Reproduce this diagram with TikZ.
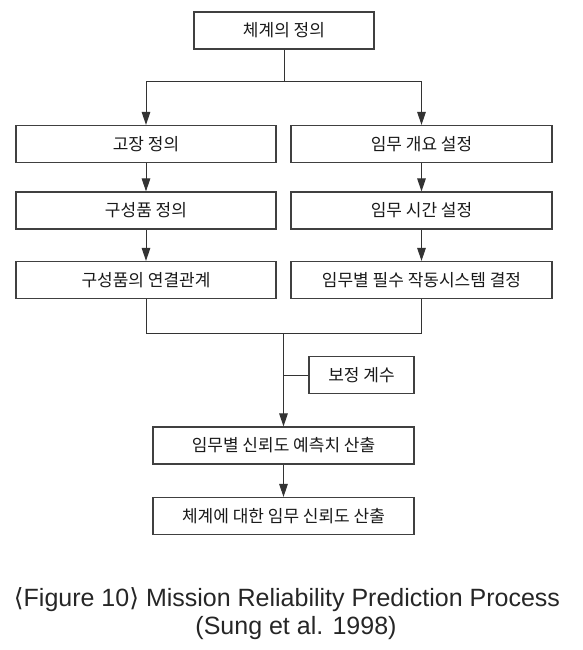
\documentclass[tikz,border=0pt]{standalone}
\usepackage{fontspec}
\setmainfont{Liberation Sans}
\newfontfamily\kr{Noto Sans CJK KR}
\newfontfamily\dv{DejaVu Sans}
\usetikzlibrary{arrows.meta,calc}
\begin{document}
\begin{tikzpicture}[x=1pt,y=-1pt,
  box/.style={draw=black!75, line width=1.1pt, minimum height=37pt, inner sep=0pt,
    font=\kr\fontsize{17}{20}\selectfont, text=black!90},
  con/.style={draw=black!80, line width=1pt},
  arr/.style={con, -{Triangle[length=13pt,width=8.5pt]}},
  captxt/.style={font=\fontsize{25}{30}\selectfont, text=black!85, inner sep=0pt}]
\useasboundingbox (0,0) rectangle (583,650);

\node[box, minimum width=180pt] (sys) at (284,30.5) {체계의 정의};
\node[box, minimum width=260pt] (fail) at (146,144) {고장 정의};
\node[box, minimum width=260pt] (comp) at (146,210.5) {구성품 정의};
\node[box, minimum width=260pt] (conn) at (146,280) {구성품의 연결관계};
\node[box, minimum width=261pt] (mis) at (421.5,144) {임무 개요 설정};
\node[box, minimum width=261pt] (time) at (421.5,210.5) {임무 시간 설정};
\node[box, minimum width=261pt] (ess) at (421.5,280) {임무별 필수 작동시스템 결정};
\node[box, minimum width=105pt] (corr) at (361.5,375) {보정 계수};
\node[box, minimum width=261pt] (pred) at (283.5,445.5) {임무별 신뢰도 예측치 산출};
\node[box, minimum width=261pt] (tot) at (283.5,516) {체계에 대한 임무 신뢰도 산출};

\coordinate (split) at (284,82);
\coordinate (merge) at (283.5,333);

\draw[con] (sys.south) -- (split);
\draw[arr] (split) -| (fail.north);
\draw[arr] (split) -| (mis.north);
\draw[arr] (fail) -- (comp);
\draw[arr] (comp) -- (conn);
\draw[arr] (mis) -- (time);
\draw[arr] (time) -- (ess);
\draw[con] (conn.south) |- (merge);
\draw[con] (ess.south) |- (merge);
\draw[arr] (merge) -- (pred.north);
\draw[con] (corr.west) -- (corr.west -| merge);
\draw[arr] (pred) -- (tot);

\node[captxt] (cap1) at (287,600) {{\dv ⟨}Figure 10{\dv ⟩} Mission Reliability Prediction Process};
\node[captxt] (cap2) at (296,628) {(Sung et al. 1998)};
\end{tikzpicture}
\end{document}
